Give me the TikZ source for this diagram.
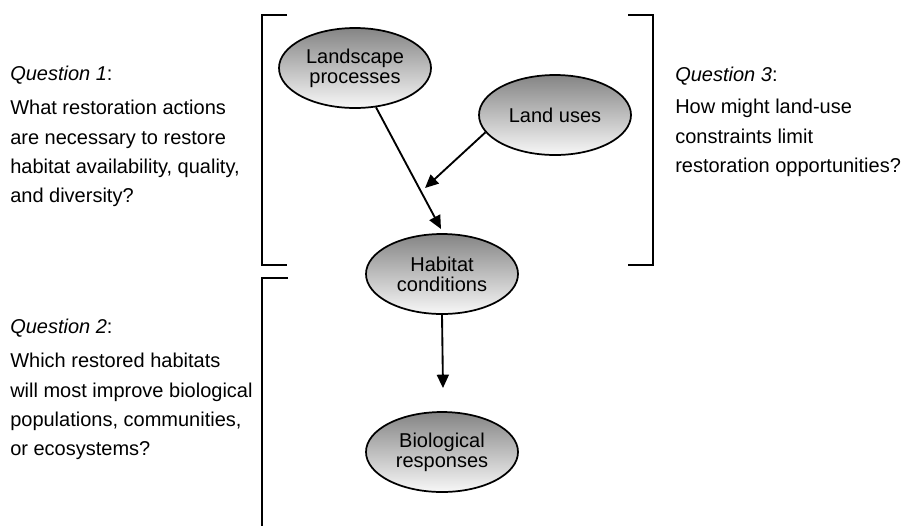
\documentclass[tikz,border=0pt]{standalone}
\usepackage{fontspec}
\setmainfont{Liberation Sans}
\usetikzlibrary{arrows.meta, shapes.geometric}

\begin{document}
\begin{tikzpicture}[
  x=0.75pt, y=-0.75pt,
  blob/.style={ellipse, draw, line width=1.3pt, top color=black!48, bottom color=black!3,
    minimum width=114pt, minimum height=60pt, inner sep=0pt, align=center,
    font=\fontsize{15pt}{15pt}\selectfont},
  quest/.style={anchor=north west, inner sep=0pt, align=left,
    font=\fontsize{15pt}{22pt}\selectfont},
  arr/.style={-{Triangle[length=10pt, width=9pt]}, line width=1.4pt},
  brk/.style={line width=1.6pt}
]
\useasboundingbox (0,0) rectangle (905,526);
\node[blob] (lp) at (355,68) {Landscape\\processes};
\node[blob] (lu) at (555,115) {Land uses};
\node[blob] (hc) at (442,274) {Habitat\\conditions};
\node[blob] (br) at (442,452) {Biological\\responses};
\coordinate (hc-in) at (441,229);
\coordinate (lu-end) at (425,188);
\coordinate (br-in) at (443,388);
\draw[arr] (lp) -- (hc-in);
\draw[arr] (lu.194) -- (lu-end);
\draw[arr] (hc.south) -- (br-in);
% brackets
\draw[brk] (287,15) -- (262,15) -- (262,265) -- (287,265);
\draw[brk] (288,278) -- (262,278) -- (262,526);
\draw[brk] (628,15) -- (653,15) -- (653,265) -- (628,265);
% questions
\node[quest] (q1) at (10,66) {\textit{Question 1}:\\[3.5pt]What restoration actions\\are necessary to restore\\habitat availability, quality,\\and diversity?};
\node[quest] (q2) at (10,319) {\textit{Question 2}:\\[3.5pt]Which restored habitats\\will most improve biological\\populations, communities,\\or ecosystems?};
\node[quest] (q3) at (675,67) {\textit{Question 3}:\\[2pt]How might land-use\\constraints limit\\restoration opportunities?};
\end{tikzpicture}
\end{document}
